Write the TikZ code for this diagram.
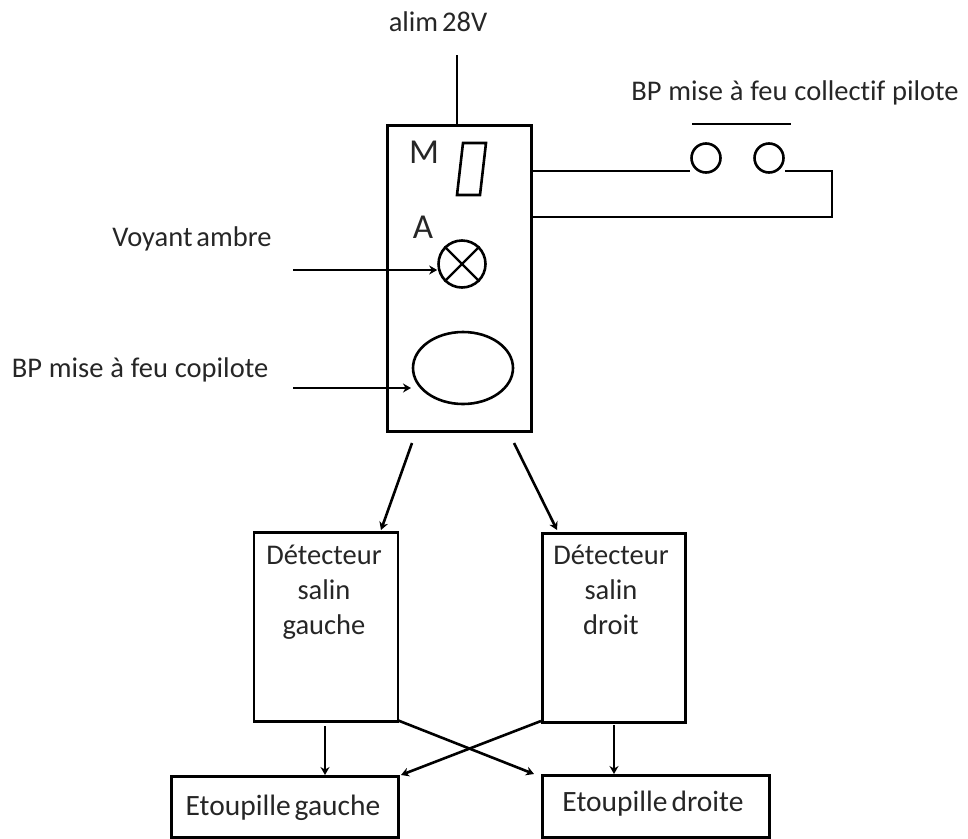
\documentclass[tikz,border=0pt]{standalone}
\usepackage{fontspec}
\setmainfont{Carlito}[Ligatures=NoCommon,WordSpace=0.6]
\usetikzlibrary{arrows.meta,shapes.geometric}
\newcommand{\wsp}{\ \hspace{3pt}}
\tikzset{
  wire/.style={line width=2.6pt,black},
  arr/.style={wire,-{Stealth[length=8pt,width=9pt]}},
  box/.style={draw,line width=2.8pt,anchor=north west,inner sep=0pt},
  lbl/.style={font=\fontsize{28.5}{35}\selectfont,align=center,text=black!85,inner sep=0pt},
  lblwide/.style={lbl,font=\fontsize{29.5}{35}\selectfont},
  big/.style={lbl,font=\fontsize{35}{40}\selectfont},
  contact/.style={circle,draw,line width=2.6pt,minimum size=29pt,inner sep=0pt}
}
\begin{document}
\begin{tikzpicture}[x=1pt,y=-1pt]
\useasboundingbox (0,0) rectangle (968,838);
% nodes
\node[box,minimum width=144pt,minimum height=306pt] (main) at (386,124) {};
\node[box,minimum width=144pt,minimum height=189pt] (dl) at (252.5,531) {};
\node[box,minimum width=143pt,minimum height=189pt] (dr) at (541,532) {};
\node[box,minimum width=227pt,minimum height=61pt] (el) at (170,775) {};
\node[box,minimum width=227pt,minimum height=62pt] (er) at (541,774) {};
\node[lbl] (tl) at (324,592) {Détecteur\\salin\\gauche};
\node[lbl] (tr) at (611,590) {Détecteur\\salin\\droit};
\node[lblwide] (tel) at (283,808) {Etoupille gauche};
\node[lblwide] (ter) at (653,804) {Etoupille droite};
\node[lbl] (alim) at (438,22) {alim 28V};
\coordinate (alimw) at (457,55);
\node[lbl] (pil) at (795,93) {BP\wsp mise\wsp à\wsp feu\wsp collectif\wsp pilote};
\node[lbl] (voy) at (192,239) {Voyant ambre};
\node[lbl] (cop) at (140,370) {BP\wsp mise\wsp à\wsp feu\wsp copilote};
\node[big] (m) at (424,152) {M};
\node[big] (a) at (423,227) {A};
% M rectangle
\draw[line width=2.6pt] (463,143) -- (486,143) -- (480,195) -- (457,195) -- cycle;
% lamp
\node[circle,draw,line width=2.6pt,minimum size=47pt,inner sep=0pt] (lamp) at (462,264) {};
\draw[line width=2.2pt] (lamp.north west) -- (lamp.south east) (lamp.north east) -- (lamp.south west);
% push button
\node[ellipse,draw,line width=2.6pt,minimum width=100pt,minimum height=72pt,inner sep=0pt] (bp) at (463,368) {};
% contacts
\node[contact] (c1) at (706,158) {};
\node[contact] (c2) at (769,158) {};
\coordinate (bl) at (692,124);
\coordinate (br) at (791,124);
\draw[wire] (bl) -- (br);
\coordinate (k1) at (530,171);
\coordinate (k2) at (832,171);
\coordinate (k3) at (832,217);
\coordinate (k4) at (530,217);
\draw[wire] (k1) -- (c1.west |- k1);
\draw[wire,line join=miter] (c2.east |- k2) -- (k2) -- (k3) -- (k4);
\draw[wire] (alimw) -- (alimw |- main.north);
% arrows
\coordinate (v0) at (293,270);
\coordinate (c0) at (293,388);
\draw[arr] (v0) -- (lamp.west |- v0);
\draw[arr] (c0) -- (411,388);
\coordinate (m1) at (412,443);
\coordinate (m2) at (514,443);
\draw[arr] (m1) -- (381,530);
\draw[arr] (m2) -- (557,530);
\coordinate (d1) at (325,726);
\coordinate (d2) at (614,725);
\draw[arr] (d1) -- (d1 |- el.north);
\draw[arr] (d2) -- (d2 |- er.north);
\coordinate (x1) at (397,720);
\coordinate (x2) at (541,721);
\coordinate (y1) at (534,774);
\coordinate (y2) at (401,775);
\draw[arr] (x1) -- (y1);
\draw[arr] (x2) -- (y2);
\end{tikzpicture}
\end{document}
